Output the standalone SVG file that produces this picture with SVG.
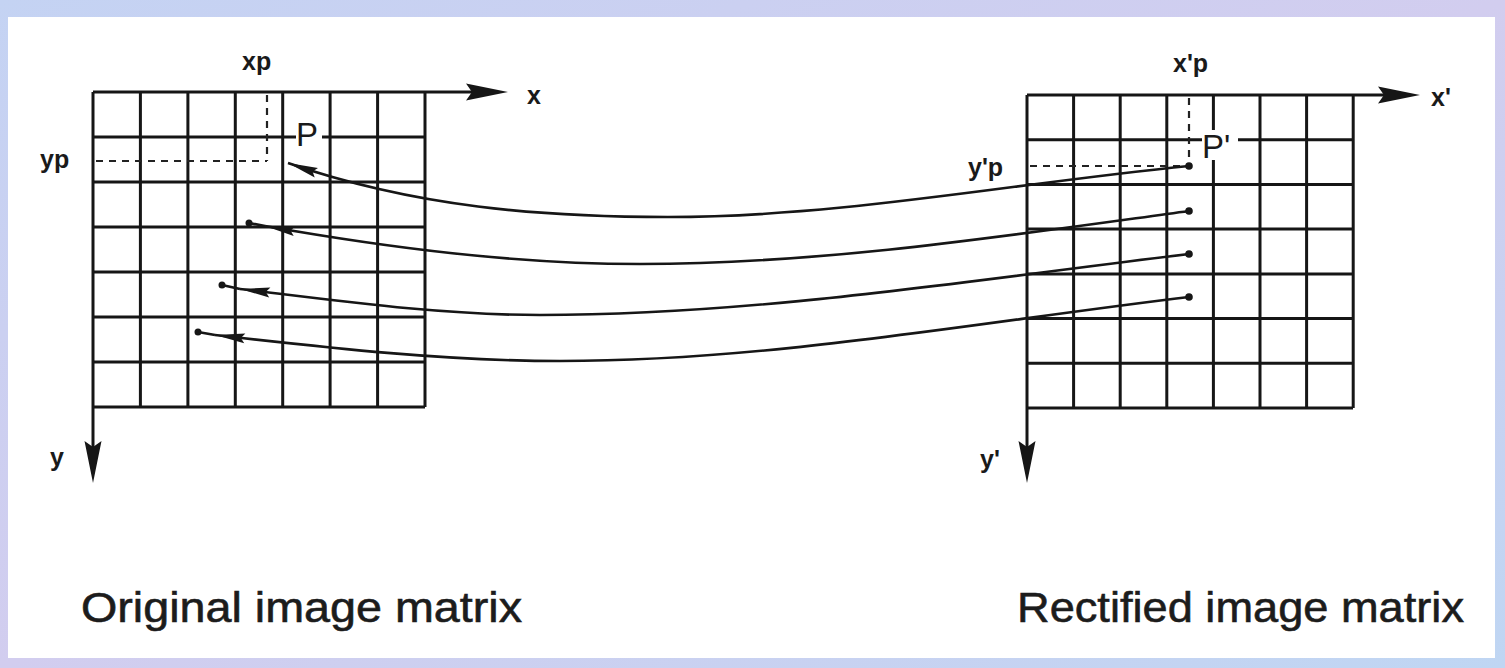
<svg xmlns="http://www.w3.org/2000/svg" width="1505" height="668" viewBox="0 0 1505 668">
<style>
.grid{stroke:#161616;stroke-width:3;fill:none}
.axis{stroke:#161616;stroke-width:3;fill:none}
.dash{stroke:#222;stroke-width:2.2;stroke-dasharray:7 6;fill:none}
.curve{stroke:#161616;stroke-width:2.6;fill:none}
.lbl{font-family:"Liberation Sans",Arial,sans-serif;font-weight:bold;fill:#1a1a1a}
.pl{font-family:"Liberation Sans",Arial,sans-serif;fill:#1a1a1a}
.cap{font-family:"Liberation Sans",Arial,sans-serif;fill:#1c1c1c;stroke:#1c1c1c;stroke-width:0.6}
.dot{fill:#161616}
</style>
<defs>
<marker id="ax" viewBox="-43 -9 44 18" refX="-30" refY="0" markerWidth="44" markerHeight="18" markerUnits="userSpaceOnUse" orient="auto">
<path d="M0,0 L-42,-8.5 L-36,0 L-42,8.5 Z" fill="#161616"/>
</marker>
<marker id="ah" viewBox="-31 -6 32 12" refX="0" refY="0" markerWidth="32" markerHeight="12" markerUnits="userSpaceOnUse" orient="auto">
<path d="M0,0 L-30,-5 L-26,0 L-30,5 Z" fill="#161616"/>
</marker>
<linearGradient id="bg" x1="0" y1="0" x2="1" y2="1">
<stop offset="0" stop-color="#c4d3f3"/>
<stop offset="0.5" stop-color="#d2cdef"/>
<stop offset="1" stop-color="#bfd6f3"/>
</linearGradient>
</defs>
<rect x="0" y="0" width="1505" height="668" fill="url(#bg)"/>
<rect x="8" y="17" width="1487" height="641" fill="#ffffff"/>

<g id="original-matrix">
<path class="grid" d="M93,92 H425 M93,137 H425 M93,182 H425 M93,227 H425 M93,272 H425 M93,317 H425 M93,362 H425 M93,407 H425
M93,92 V407 M140.4,92 V407 M187.9,92 V407 M235.3,92 V407 M282.7,92 V407 M330.1,92 V407 M377.6,92 V407 M425,92 V407"/>
<line class="axis" x1="425" y1="92" x2="478" y2="92" marker-end="url(#ax)"/>
<line class="axis" x1="93" y1="407" x2="93" y2="453" marker-end="url(#ax)"/>
<path class="dash" d="M96,161 H267 M267,95 V161"/>
<rect x="296" y="118" width="26" height="30" fill="#fff"/>
<text class="pl" x="296" y="146" font-size="33">P</text>
<text class="lbl" x="242" y="70" font-size="25">xp</text>
<text class="lbl" x="527" y="104" font-size="25">x</text>
<text class="lbl" x="40" y="168" font-size="25">yp</text>
<text class="lbl" x="50" y="466" font-size="25">y</text>
<text class="cap" x="81" y="622" font-size="43" textLength="441" lengthAdjust="spacingAndGlyphs">Original image matrix</text>
</g>

<g id="rectified-matrix">
<path class="grid" d="M1027,95 H1353 M1027,139.7 H1353 M1027,184.4 H1353 M1027,229.1 H1353 M1027,273.9 H1353 M1027,318.6 H1353 M1027,363.3 H1353 M1027,408 H1353
M1027,95 V408 M1073.6,95 V408 M1120.2,95 V408 M1166.8,95 V408 M1213.4,95 V408 M1260,95 V408 M1306.6,95 V408 M1353.2,95 V408"/>
<line class="axis" x1="1353" y1="95" x2="1390" y2="95" marker-end="url(#ax)"/>
<line class="axis" x1="1027" y1="408" x2="1027" y2="453" marker-end="url(#ax)"/>
<path class="dash" d="M1030,166 H1189 M1189,98 V166"/>
<rect x="1202" y="130" width="36" height="30" fill="#fff"/>
<text class="pl" x="1202" y="158" font-size="33">P'</text>
<text class="lbl" x="1173" y="72" font-size="25">x'p</text>
<text class="lbl" x="1431" y="106" font-size="25">x'</text>
<text class="lbl" x="968" y="176" font-size="25">y'p</text>
<text class="lbl" x="980" y="468" font-size="25">y'</text>
<text class="cap" x="1017" y="622" font-size="43" textLength="447" lengthAdjust="spacingAndGlyphs">Rectified image matrix</text>
</g>

<g id="connectors">
<path class="curve" d="M1189,166 C1015,183 842,217 668,217 C541,217 415,207 288,163" marker-end="url(#ah)"/>
<path class="curve" d="M1189,211 C1006,236 823,264 640,264 C515,264 390,248 265,226" marker-end="url(#ah)"/>
<line class="curve" x1="265" y1="226" x2="249" y2="223"/>
<path class="curve" d="M1189,254 C973,280 756,315 540,315 C440,315 340,301 240,289" marker-end="url(#ah)"/>
<line class="curve" x1="240" y1="289" x2="222" y2="285"/>
<path class="curve" d="M1189,297 C979,322 770,361 560,361 C445,361 330,348 215,335" marker-end="url(#ah)"/>
<line class="curve" x1="215" y1="335" x2="198" y2="332"/>
<circle class="dot" cx="249" cy="223" r="3.5"/>
<circle class="dot" cx="222" cy="285" r="3.5"/>
<circle class="dot" cx="198" cy="332" r="3.5"/>
<circle class="dot" cx="1189" cy="166" r="3.8"/>
<circle class="dot" cx="1189" cy="211" r="3.8"/>
<circle class="dot" cx="1189" cy="254" r="3.8"/>
<circle class="dot" cx="1189" cy="297" r="3.8"/>
</g>
</svg>
